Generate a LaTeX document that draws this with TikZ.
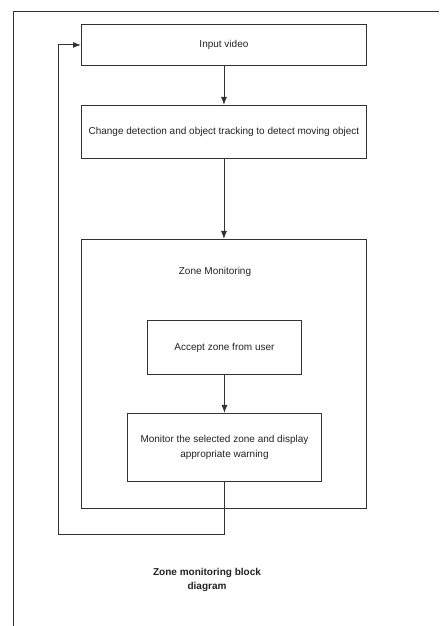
\documentclass[tikz,border=0pt]{standalone}
\usepackage{fontspec}
\setmainfont{Liberation Sans}
\usetikzlibrary{arrows.meta,positioning}
\definecolor{LineDark}{HTML}{333333}
\definecolor{TextDark}{HTML}{222222}
\tikzset{
  every picture/.append style={font=\fontsize{10}{14.5}\selectfont, >=Latex},
  blk/.style={rectangle, draw=LineDark, fill=white, line width=0.9pt, align=center,
              text=TextDark, inner sep=3pt},
  grp/.style={rectangle, draw=LineDark, line width=0.9pt},
  flow/.style={-{Latex[length=8pt,width=6pt]}, line width=0.9pt, draw=LineDark},
  lbl/.style={text=TextDark},
  ttl/.style={font=\fontsize{10}{14}\selectfont\bfseries, align=center, text=TextDark},
}

\begin{document}
\begin{tikzpicture}[x=1pt,y=1pt]
\useasboundingbox (0,0) rectangle (439,626);

% ---------------- page frame ----------------------------------------------------------
\draw[line width=0.9pt, draw=LineDark] (439,615) -- (13,615) -- (13,0);

% =============== main chain ===========================================================
\node[blk, minimum width=285pt, minimum height=41pt, anchor=north west] (inp) at (81,602)
  {Input video};
\node[blk, minimum width=285pt, minimum height=53pt, anchor=north west] (chg) at (81,521)
  {Change detection and object tracking to detect moving object};
\draw[flow] (inp) -- (chg);

% =============== zone monitoring ======================================================
\node[grp, minimum width=285pt, minimum height=269pt, anchor=north west] (zone) at (81,387) {};
\node[lbl] (zlab) at (215,354) {Zone Monitoring};
\node[blk, minimum width=154pt, minimum height=54pt, anchor=north west] (acc) at (147,306)
  {Accept zone from user};
\node[blk, minimum width=194pt, minimum height=68pt, anchor=north west] (mon) at (127,213)
  {Monitor the selected zone and display\\ appropriate warning};
\draw[flow] (chg) -- (zone);
\draw[flow] (acc) -- (mon);

% ---------------- feedback loop ---------------------------------------------------------
\coordinate (back) at (58,92);
\draw[flow] (mon.south) |- (back) |- (inp.west);

% ---------------- caption -------------------------------------------------------------------
\node[ttl] (cap) at (207,46) {Zone monitoring block\\ diagram};

\end{tikzpicture}
\end{document}
